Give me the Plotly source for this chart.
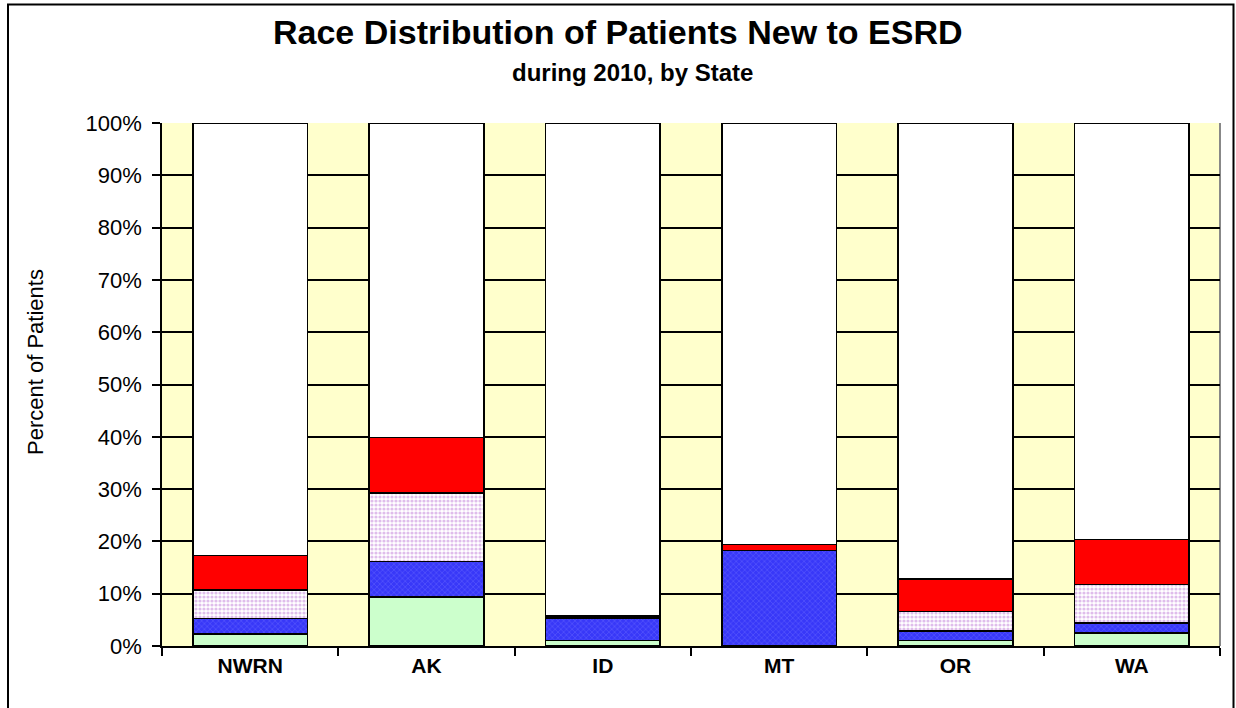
import plotly.graph_objects as go

states = ["NWRN", "AK", "ID", "MT", "OR", "WA"]
series_names = ["Other/Unknown", "Native American", "Asian", "Black", "White"]
other = [2.3, 9.4, 1.1, 0.0, 1.1, 2.5]
native = [3.0, 6.8, 4.2, 18.3, 1.8, 1.9]
asian = [5.4, 13.1, 0.2, 0.0, 3.7, 7.4]
black = [6.6, 10.6, 0.3, 1.1, 6.2, 8.6]
white = [round(100 - a - b - c - d, 1) for a, b, c, d in zip(other, native, asian, black)]
y_ticks = list(range(0, 101, 10))

FONT = "Liberation Sans, Arial, sans-serif"
L, R, T, B = 162, 1220, 123, 646
W, H = 1236, 708

def px(x):
    return (x - L) / (R - L)

def py(y):
    return (B - y) / (B - T)

fig = go.Figure()
line = dict(color="black", width=1.5)
fig.add_bar(x=states, y=other, name=series_names[0],
            marker=dict(color="#CCFFCC", line=line))
fig.add_bar(x=states, y=native, name=series_names[1],
            marker=dict(color="#3838F8", line=line,
                        pattern=dict(shape="x", fgcolor="#6E6EFF", bgcolor="#3838F8",
                                     size=4, solidity=0.35)))
fig.add_bar(x=states, y=asian, name=series_names[2],
            marker=dict(color="white", line=line,
                        pattern=dict(shape=".", fgcolor="#C07CD8", bgcolor="white",
                                     size=4, solidity=0.5)))
fig.add_bar(x=states, y=black, name=series_names[3],
            marker=dict(color="#FF0000", line=line))
fig.add_bar(x=states, y=white, name=series_names[4],
            marker=dict(color="white", line=line))

fig.update_layout(
    width=W, height=H,
    margin=dict(l=L, r=W - R, t=T, b=H - B, pad=0),
    barmode="stack", bargap=0.35,
    showlegend=False,
    paper_bgcolor="white", plot_bgcolor="#FFFFCC",
    font=dict(family=FONT, color="black"),
)
fig.update_xaxes(
    type="category", range=[-0.5, 5.5],
    showline=True, linecolor="black", linewidth=1.5,
    ticks="outside", tickson="boundaries", ticklen=8, tickcolor="black", tickwidth=1.5,
    tickfont=dict(family=FONT, size=21, weight="bold"),
    showgrid=False, zeroline=False,
)
fig.update_yaxes(
    range=[0, 100], tickvals=y_ticks, ticktext=[f"{v}%" for v in y_ticks],
    showline=True, linecolor="black", linewidth=1.5,
    ticks="outside", ticklen=8, tickcolor="black", tickwidth=1.5,
    ticklabelstandoff=6,
    tickfont=dict(family=FONT, size=22),
    showgrid=True, gridcolor="black", gridwidth=1.5, zeroline=False,
)

# plot-area border (right) in gray
fig.add_shape(type="line", xref="paper", yref="paper", x0=1, x1=1, y0=0, y1=1,
              line=dict(color="#888888", width=2), layer="below")
# outer chart frame
fig.add_shape(type="rect", xref="paper", yref="paper",
              x0=px(8), x1=px(1233.5), y0=py(760), y1=py(4.5),
              line=dict(color="black", width=2), layer="above")

fig.add_annotation(text="Percent of Patients", textangle=-90,
                   xref="paper", yref="paper", x=px(35), y=py(362),
                   xanchor="center", yanchor="middle", showarrow=False,
                   font=dict(family=FONT, size=22))
fig.add_annotation(text="<b>Race Distribution of Patients New to ESRD</b>",
                   xref="paper", yref="paper", x=px(618), y=py(32),
                   xanchor="center", yanchor="middle", showarrow=False,
                   font=dict(family=FONT, size=34))
fig.add_annotation(text="<b>during 2010, by State</b>",
                   xref="paper", yref="paper", x=px(632), y=py(73),
                   xanchor="center", yanchor="middle", showarrow=False,
                   font=dict(family=FONT, size=24))

fig.write_html("out.html", post_script="document.body.style.margin='0';",
               config={"displayModeBar": False})
